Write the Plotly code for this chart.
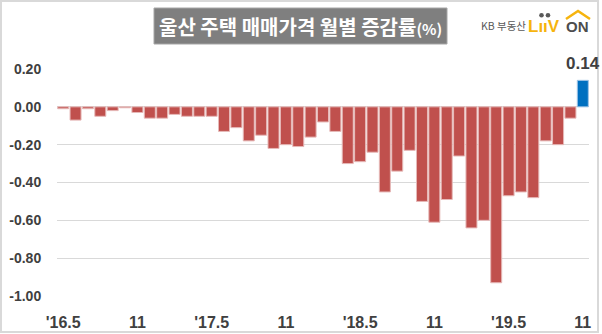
import pandas as pd
import plotly.graph_objects as go

# Monthly change of Ulsan housing sale prices (%), May 2016 - Nov 2019
months = [p.strftime("%Y-%m") for p in pd.period_range("2016-05", "2019-11", freq="M")]
changes = [
    -0.01, -0.07, -0.01, -0.05, -0.02, -0.005, -0.03, -0.06, -0.06, -0.04,
    -0.05, -0.05, -0.05, -0.13, -0.11, -0.18, -0.15, -0.22, -0.20, -0.21,
    -0.16, -0.08, -0.13, -0.30, -0.29, -0.24, -0.45, -0.34, -0.23, -0.50,
    -0.61, -0.49, -0.26, -0.64, -0.60, -0.93, -0.47, -0.45, -0.48, -0.18,
    -0.20, -0.06, 0.14,
]
tick_months = ["2016-05", "2016-11", "2017-05", "2017-11", "2018-05", "2018-11", "2019-05", "2019-11"]
tick_text = ["'16.5", "11", "'17.5", "11", "'18.5", "11", "'19.5", "11"]
y_ticks = [0.2, 0.0, -0.2, -0.4, -0.6, -0.8, -1.0]
y_tick_text = ["0.20", "0.00", "-0.20", "-0.40", "-0.60", "-0.80", "-1.00"]

RED, BLUE = "#C0504D", "#0070C0"
bar_colors = [BLUE if v > 0 else RED for v in changes]
edge_colors = ["#9DC3E6" if v > 0 else "#E6B9B8" for v in changes]

W_FIG, H_FIG = 602, 334
L, R, T, B = 57, 13, 69, 38
PW, PH = W_FIG - L - R, H_FIG - T - B


def px_x(x):
    return (x - L) / PW


def px_y(y):
    return (H_FIG - B - y) / PH


fig = go.Figure(
    go.Bar(
        x=months,
        y=changes,
        marker=dict(color=bar_colors, line=dict(color=edge_colors, width=1)),
        hoverinfo="x+y",
    )
)

fig.update_layout(
    width=W_FIG,
    height=H_FIG,
    margin=dict(l=L, r=R, t=T, b=B),
    paper_bgcolor="white",
    plot_bgcolor="white",
    bargap=0.11,
    showlegend=False,
    font=dict(family="Liberation Sans, Arial, sans-serif", color="#404040"),
)

fig.update_xaxes(
    type="category",
    range=[-0.5, len(months) - 0.5],
    tickmode="array",
    tickvals=tick_months,
    ticktext=tick_text,
    tickfont=dict(size=16, color="#404040", weight="bold"),
    ticks="outside",
    ticklen=12,
    tickcolor="rgba(0,0,0,0)",
    showgrid=False,
    showline=False,
    zeroline=False,
    automargin=False,
)

fig.update_yaxes(
    range=[-1.0, 0.2],
    tickmode="array",
    tickvals=y_ticks,
    ticktext=y_tick_text,
    tickfont=dict(size=14, color="#404040", weight="bold"),
    ticks="outside",
    ticklen=12,
    tickcolor="rgba(0,0,0,0)",
    showgrid=True,
    gridcolor="#D9D9D9",
    gridwidth=1,
    zeroline=True,
    zerolinecolor="#D9D9D9",
    zerolinewidth=1,
    showline=False,
    automargin=False,
)

# Value label on the latest month
fig.add_annotation(
    x=months[-1], y=changes[-1], text=f"{changes[-1]:.2f}",
    showarrow=False, yanchor="bottom", yshift=5,
    font=dict(size=17, color="#404040", weight="bold"),
)

# Title box
fig.add_shape(
    type="rect", xref="paper", yref="paper",
    x0=px_x(154), x1=px_x(447), y0=px_y(44), y1=px_y(8),
    fillcolor="#7F7F7F", line=dict(color="#A6A6A6", width=1),
)
fig.add_annotation(
    xref="paper", yref="paper", x=px_x(300), y=px_y(26),
    text='울산 주택 매매가격 월별 증감률<span style="font-size:15px">(%)</span>',
    showarrow=False, xanchor="center", yanchor="middle",
    font=dict(family="Noto Sans CJK KR", size=20, color="white", weight="bold"),
)

# Brand mark
fig.add_annotation(
    xref="paper", yref="paper", x=px_x(503), y=px_y(25),
    text="KB 부동산", showarrow=False, xanchor="center", yanchor="middle",
    font=dict(family="Noto Sans CJK KR", size=10.5, color="#595959"),
)
fig.add_annotation(
    xref="paper", yref="paper", x=px_x(544), y=px_y(26),
    text="LııV", showarrow=False, xanchor="center", yanchor="middle",
    font=dict(family="Liberation Sans", size=17, color="#F6B40E", weight="bold"),
)
for cx in (541.5, 548):
    fig.add_shape(
        type="circle", xref="paper", yref="paper",
        x0=px_x(cx - 2.3), x1=px_x(cx + 2.3), y0=px_y(17.5), y1=px_y(12.9),
        fillcolor="#595959", line=dict(width=0),
    )
fig.add_annotation(
    xref="paper", yref="paper", x=px_x(577), y=px_y(27),
    text="ON", showarrow=False, xanchor="center", yanchor="middle",
    font=dict(family="Liberation Sans", size=15, color="#4D4D4D", weight="bold"),
)
fig.add_shape(
    type="path", xref="paper", yref="paper",
    path=(f"M {px_x(566)},{px_y(19)} L {px_x(578)},{px_y(11)} "
          f"L {px_x(590)},{px_y(19)}"),
    line=dict(color="#F6B40E", width=2.5),
)

# Outer frame
fig.add_shape(
    type="rect", xref="paper", yref="paper",
    x0=px_x(1), x1=px_x(598), y0=px_y(332), y1=px_y(1),
    line=dict(color="#D9D9D9", width=2), fillcolor="rgba(0,0,0,0)", layer="above",
)

fig.write_html("out.html")
